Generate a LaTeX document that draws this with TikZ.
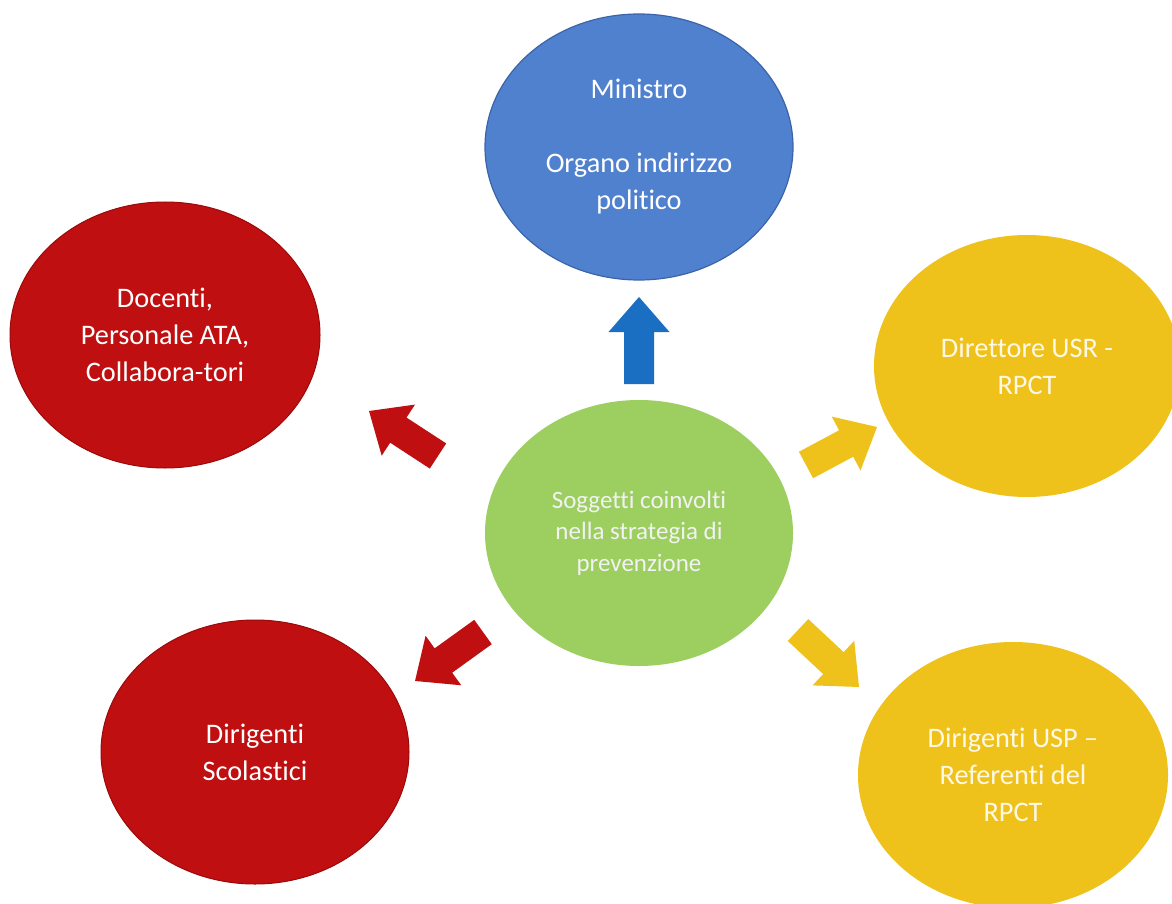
\documentclass[tikz,border=0pt]{standalone}
\usepackage{fontspec}
\setmainfont{Carlito}[Ligatures=NoCommon]
\usetikzlibrary{calc,shapes.geometric}
\definecolor{cblue}{HTML}{4F81CF}
\definecolor{cblueline}{HTML}{3B64A8}
\definecolor{carrowblue}{HTML}{1A6FC2}
\definecolor{cred}{HTML}{C00F10}
\definecolor{credline}{HTML}{9A0A0A}
\definecolor{cyellow}{HTML}{EEC21B}
\definecolor{cgreen}{HTML}{9CCF60}
\definecolor{ctextyellow}{HTML}{FFF8E6}
\newcommand{\blockarr}[3]{%
  \path let \p1=(#1), \p2=(#2), \n1={atan2(\y2-\y1,\x2-\x1)}, \n2={veclen(\x2-\x1,\y2-\y1)} in
    \pgfextra{\xdef\baang{\n1}\xdef\balen{\n2}\xdef\bax{\x1}\xdef\bay{\y1}};
  \fill[#3, shift={(\bax,\bay)}, rotate=\baang]
    (0pt,-15pt) -- (\balen-35pt,-15pt) -- (\balen-35pt,-30.5pt) -- (\balen,0pt)
    -- (\balen-35pt,30.5pt) -- (\balen-35pt,15pt) -- (0pt,15pt) -- cycle;
}
\tikzset{
  bubble/.style={ellipse, inner sep=0pt, align=center, text=white,
    minimum width=308pt, minimum height=266pt,
    font=\fontsize{28.3pt}{37pt}\selectfont},
  bluebubble/.style={bubble, fill=cblue, draw=cblueline, line width=1.2pt},
  redbubble/.style={bubble, fill=cred, draw=credline, line width=1pt},
  yellowbubble/.style={bubble, fill=cyellow, text=ctextyellow},
  greenbubble/.style={bubble, fill=cgreen, text=white!95!black,
    font=\fontsize{25pt}{31.5pt}\selectfont}
}
\begin{document}
\begin{tikzpicture}[x=1pt,y=-1pt]
\useasboundingbox (0,0) rectangle (1172,904);
\clip (0,0) rectangle (1172,904);
\fill[white] (0,0) rectangle (1172,904);

\node[bluebubble] (ministro) at (639,147) {Ministro\\[37pt]Organo indirizzo\\politico};
\node[redbubble, minimum width=310pt] (docenti) at (165,335) {Docenti,\\Personale ATA,\\Collabora-tori};
\node[yellowbubble, minimum width=306pt, minimum height=262pt] (direttore) at (1027,366) {Direttore USR -\\RPCT};
\node[greenbubble] (soggetti) at (639,533) {Soggetti coinvolti\\nella strategia di\\prevenzione};
\node[redbubble, minimum height=264pt] (scolastici) at (255,752) {Dirigenti\\Scolastici};
\node[yellowbubble, minimum width=310pt] (usp) at (1013,775) {Dirigenti USP –\\Referenti del\\RPCT};

\coordinate (a1s) at (639,384); \coordinate (a1e) at (639,297);
\coordinate (a2s) at (438,456); \coordinate (a2e) at (369,411);
\coordinate (a3s) at (806,465); \coordinate (a3e) at (877,427);
\coordinate (a4s) at (483,632); \coordinate (a4e) at (415,681);
\coordinate (a5s) at (798,630); \coordinate (a5e) at (859,687);

\blockarr{a1s}{a1e}{carrowblue}
\blockarr{a2s}{a2e}{cred}
\blockarr{a3s}{a3e}{cyellow}
\blockarr{a4s}{a4e}{cred}
\blockarr{a5s}{a5e}{cyellow}
\end{tikzpicture}
\end{document}
